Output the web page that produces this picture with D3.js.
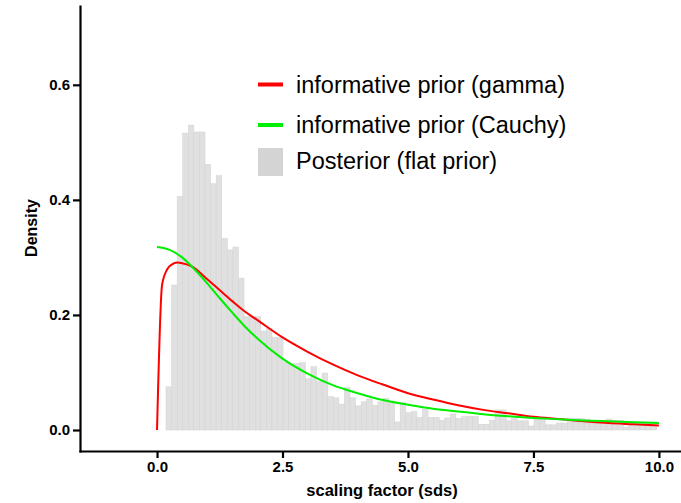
<!DOCTYPE html>
<html>
<head>
<meta charset="utf-8">
<script src="https://cdn.jsdelivr.net/npm/d3@7"></script>
<style>
  body { margin: 0; background: #fff; }
  svg { font-family: "Liberation Sans", Arial, sans-serif; }
</style>
</head>
<body>
<svg id="chart" width="681" height="503"></svg>
<script>
const WIDTH = 681, HEIGHT = 503;

// histogram of the posterior (flat prior), 88 equal bins
const BIN_START = 0.1785, BIN_WIDTH = 0.1111;
const posterior = [
  0.075, 0.252, 0.406, 0.516, 0.530, 0.518, 0.518, 0.462, 0.428, 0.442,
  0.333, 0.313, 0.318, 0.264, 0.197, 0.197, 0.197, 0.172, 0.176, 0.161,
  0.161, 0.118, 0.115, 0.116, 0.117, 0.089, 0.110, 0.084, 0.099, 0.058,
  0.056, 0.045, 0.074, 0.056, 0.042, 0.049, 0.054, 0.043, 0.049, 0.055,
  0.046, 0.014, 0.048, 0.030, 0.032, 0.022, 0.036, 0.022, 0.022, 0.017,
  0.021, 0.028, 0.020, 0.023, 0.024, 0.024, 0.010, 0.010, 0.017, 0.035,
  0.035, 0.016, 0.020, 0.016, 0.016, 0.007, 0.019, 0.019, 0.009, 0.009,
  0.012, 0.012, 0.020, 0.020, 0.020, 0.019, 0.017, 0.017, 0.017, 0.019,
  0.017, 0.017, 0.005, 0.014, 0.014, 0.014, 0.014, 0.014
];

// informative prior (gamma)
const gammaX = [0, 0.1, 0.2, 0.3, 0.4, 0.5, 0.7, 1.0, 1.25, 1.5, 1.75, 2.0, 2.5, 3.0,
                3.5, 4.0, 4.5, 5.0, 5.5, 6.0, 6.5, 7.0, 7.5, 8.0, 8.5, 9.0, 9.5, 10.0];
const gammaY = [0, 0.252, 0.279, 0.288, 0.291, 0.290, 0.284, 0.262, 0.243, 0.224, 0.206, 0.191, 0.161, 0.136,
                0.114, 0.095, 0.079, 0.064, 0.053, 0.043, 0.035, 0.029, 0.023, 0.019, 0.015, 0.012, 0.010, 0.008];

// informative prior (Cauchy)
const cauchyX = [0, 0.25, 0.5, 0.75, 1.0, 1.25, 1.5, 1.75, 2.0, 2.5, 3.0, 3.5, 4.0,
                 4.5, 5.0, 5.5, 6.0, 6.5, 7.0, 7.5, 8.0, 8.5, 9.0, 9.5, 10.0];
const cauchyY = [0.318, 0.313, 0.300, 0.279, 0.255, 0.229, 0.204, 0.180, 0.159, 0.124, 0.098, 0.078, 0.064,
                 0.052, 0.044, 0.037, 0.032, 0.0275, 0.024, 0.021, 0.0187, 0.0167, 0.015, 0.0135, 0.0122];

const xTicks = [0, 2.5, 5, 7.5, 10];
const yTicks = [0, 0.2, 0.4, 0.6];
const legendLabels = ['informative prior (gamma)', 'informative prior (Cauchy)', 'Posterior (flat prior)'];
const legendColors = ['#ff0000', '#00ee00', '#d4d4d4'];

var svg = d3.select('#chart');

var x = d3.scaleLinear().domain([-1.535, 10.44]).range([80, WIDTH]);
var y = d3.scaleLinear().domain([-0.0365, 0.737]).range([451, 6]);

// bars
svg.append('g').selectAll('rect')
  .data(posterior)
  .join('rect')
  .attr('x', (d, i) => x(BIN_START + i * BIN_WIDTH))
  .attr('width', x(BIN_WIDTH) - x(0))
  .attr('y', d => y(d))
  .attr('height', d => y(0) - y(d))
  .attr('fill', '#e0e0e0')
  .attr('stroke', '#d2d2d2')
  .attr('stroke-width', 0.5);

// curves
var line = d3.line().x(d => x(d[0])).y(d => y(d[1])).curve(d3.curveMonotoneX);

svg.append('path')
  .datum(gammaX.map((v, i) => [v, gammaY[i]]))
  .attr('d', line)
  .attr('fill', 'none').attr('stroke', legendColors[0]).attr('stroke-width', 2);

svg.append('path')
  .datum(cauchyX.map((v, i) => [v, cauchyY[i]]))
  .attr('d', line)
  .attr('fill', 'none').attr('stroke', legendColors[1]).attr('stroke-width', 2);

// axes
var xAxis = svg.append('g')
  .attr('transform', 'translate(0,451)')
  .call(d3.axisBottom(x).tickValues(xTicks).tickSize(7).tickSizeOuter(0).tickPadding(3).tickFormat(d3.format('.1f')));

var yAxis = svg.append('g')
  .attr('transform', 'translate(80,0)')
  .call(d3.axisLeft(y).tickValues(yTicks).tickSize(7).tickSizeOuter(0).tickPadding(3).tickFormat(d3.format('.1f')));

[xAxis, yAxis].forEach(function(ax) {
  ax.select('.domain').attr('stroke', '#000').attr('stroke-width', 2.2).attr('stroke-linecap', 'square');
  ax.selectAll('.tick line').attr('stroke', '#000').attr('stroke-width', 2.2);
  ax.selectAll('.tick text')
    .attr('fill', '#000')
    .style('font-family', '"Liberation Sans", Arial, sans-serif')
    .style('font-size', '15px')
    .style('font-weight', 'bold');
});

svg.append('text')
  .attr('x', 382).attr('y', 496)
  .attr('text-anchor', 'middle')
  .style('font-size', '16.5px').style('font-weight', 'bold')
  .text('scaling factor (sds)');

svg.append('text')
  .attr('transform', 'translate(37,228) rotate(-90)')
  .attr('text-anchor', 'middle')
  .style('font-size', '16px').style('font-weight', 'bold')
  .text('Density');

// legend
var legendY = [93, 133, 169];
var legend = svg.append('g');
legend.append('line').attr('x1', 258).attr('x2', 283).attr('y1', 84.5).attr('y2', 84.5)
  .attr('stroke', legendColors[0]).attr('stroke-width', 4);
legend.append('line').attr('x1', 258).attr('x2', 283).attr('y1', 125).attr('y2', 125)
  .attr('stroke', legendColors[1]).attr('stroke-width', 4);
legend.append('rect').attr('x', 258).attr('y', 148).attr('width', 25).attr('height', 28)
  .attr('fill', legendColors[2]);
legend.selectAll('text')
  .data(legendLabels)
  .join('text')
  .attr('x', 296)
  .attr('y', (d, i) => legendY[i])
  .style('font-size', '23.5px')
  .attr('fill', '#000')
  .text(d => d);
</script>
</body>
</html>
